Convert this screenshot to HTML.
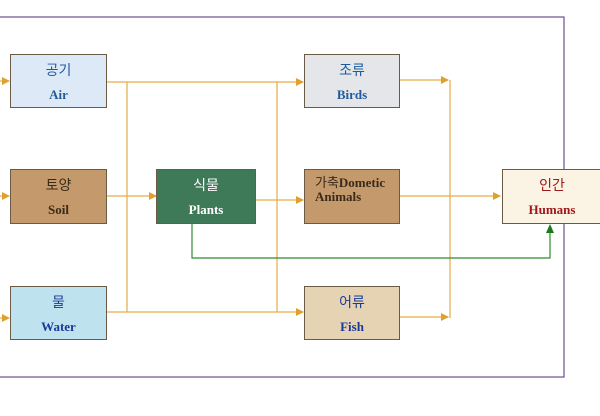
<!DOCTYPE html>
<html><head><meta charset="utf-8"><style>
body{margin:0;width:600px;height:416px;background:#fff;overflow:hidden;position:relative;font-family:"Liberation Serif","Noto Sans CJK KR",serif}
.b{position:absolute;border:1px solid #6b5a45;box-sizing:border-box;text-align:center}
.k{position:absolute;left:0;right:0;top:5px;font-family:"Liberation Sans","Noto Sans CJK KR",sans-serif;font-size:14px}
.e{position:absolute;left:0;right:0;top:32px;font-weight:bold;font-size:13px}
</style></head><body>
<svg width="600" height="416" style="position:absolute;left:0;top:0">
<defs>
<marker id="o" markerWidth="8" markerHeight="8" refX="7" refY="4" orient="auto" markerUnits="userSpaceOnUse"><path d="M0,0L8,4L0,8z" fill="#e0a030"/></marker>
</defs>
<rect x="-5" y="17" width="569" height="360" fill="none" stroke="#6a4f8a" stroke-width="1.2"/>
<g stroke="#e6ac44" stroke-width="1.2" fill="none">
<line x1="0" y1="81" x2="9" y2="81" marker-end="url(#o)"/>
<line x1="0" y1="196" x2="9" y2="196" marker-end="url(#o)"/>
<line x1="0" y1="318" x2="9" y2="318" marker-end="url(#o)"/>
<line x1="107" y1="82" x2="303" y2="82" marker-end="url(#o)"/>
<line x1="107" y1="312" x2="303" y2="312" marker-end="url(#o)"/>
<line x1="127" y1="82" x2="127" y2="312"/>
<line x1="277" y1="82" x2="277" y2="312"/>
<line x1="107" y1="196" x2="156" y2="196" marker-end="url(#o)"/>
<line x1="256" y1="200" x2="303" y2="200" marker-end="url(#o)"/>
<line x1="400" y1="80" x2="448" y2="80" marker-end="url(#o)"/>
<line x1="400" y1="317" x2="448" y2="317" marker-end="url(#o)"/>
<line x1="450" y1="80" x2="450" y2="318"/>
<line x1="400" y1="196" x2="500" y2="196" marker-end="url(#o)"/>
</g>
<polyline points="192,224 192,258 550,258 550,226" fill="none" stroke="#2e8b2e" stroke-width="1.2"/>
<path d="M546,233L550,224L554,233z" fill="#1a7a1a"/>
</svg>
<div class="b" style="left:10px;top:54px;width:97px;height:54px;background:#dde9f7;color:#1f5b9a"><div class="k">공기</div><div class="e">Air</div></div>
<div class="b" style="left:10px;top:169px;width:97px;height:55px;background:#c49a6c;color:#3a2a1a"><div class="k">토양</div><div class="e">Soil</div></div>
<div class="b" style="left:10px;top:286px;width:97px;height:54px;background:#bfe3ee;color:#1a3a9a"><div class="k">물</div><div class="e">Water</div></div>
<div class="b" style="left:156px;top:169px;width:100px;height:55px;background:#3f7a58;color:#fff"><div class="k">식물</div><div class="e">Plants</div></div>
<div class="b" style="left:304px;top:54px;width:96px;height:54px;background:#e4e6ea;color:#1f5b9a"><div class="k">조류</div><div class="e">Birds</div></div>
<div class="b" style="left:304px;top:169px;width:96px;height:55px;background:#c49a6c;color:#3a2a1a;text-align:left"><div class="k" style="top:2px;left:10px;font-size:13px"><span>가축</span><b style="font-family:'Liberation Serif',serif">Dometic</b></div><div class="e" style="top:19px;left:10px">Animals</div></div>
<div class="b" style="left:304px;top:286px;width:96px;height:54px;background:#e6d3b4;color:#1a3a9a"><div class="k">어류</div><div class="e">Fish</div></div>
<div class="b" style="left:502px;top:169px;width:100px;height:55px;background:#fbf3e4;color:#a01818"><div class="k">인간</div><div class="e">Humans</div></div>
</body></html>
